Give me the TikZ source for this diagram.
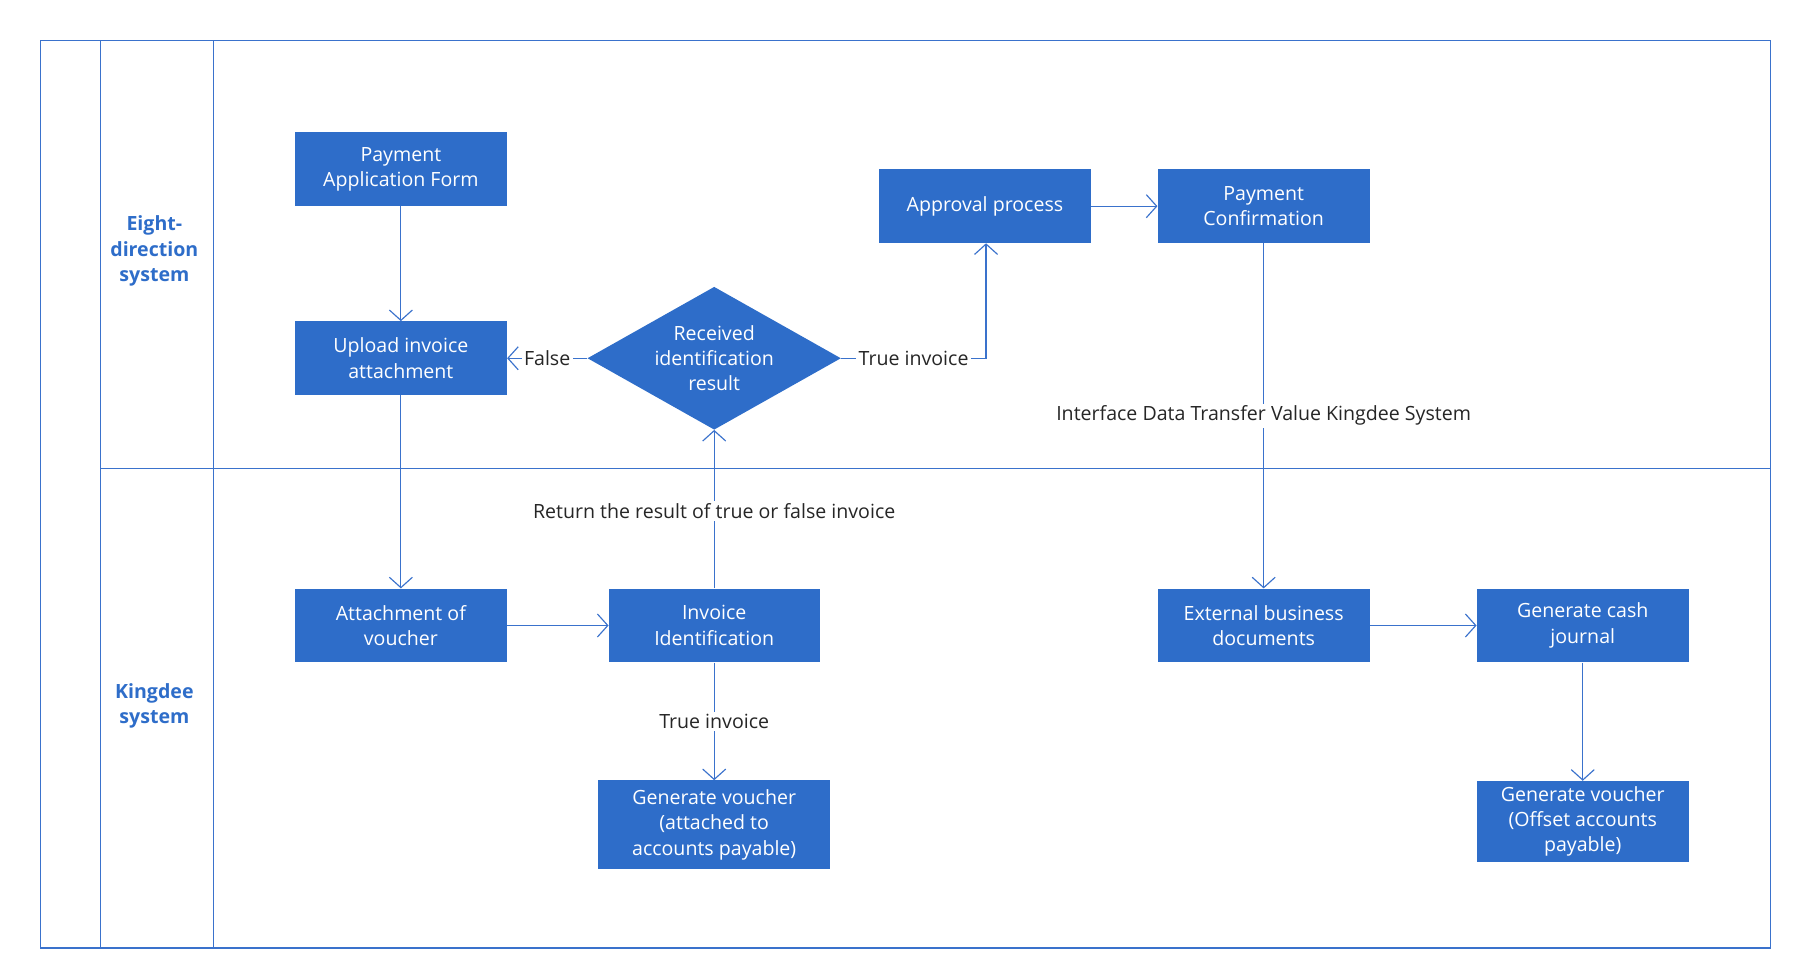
\documentclass[tikz,border=0pt]{standalone}
\usepackage{fontspec}
\setmainfont{Open Sans}
\usetikzlibrary{arrows.meta,shapes.geometric}
\definecolor{bx}{HTML}{2E6DC9}
\definecolor{ln}{HTML}{3A72CC}
\begin{document}
\begin{tikzpicture}[x=1pt,y=-1pt,
  box/.style={draw=none,fill=bx,text=white,font=\fontsize{17}{22}\selectfont,align=center,inner sep=0pt},
  con/.style={draw=ln,line width=1pt,-{Straight Barb[length=9pt,width=20pt]}},
  lbl/.style={fill=white,font=\fontsize{17}{22}\selectfont,text=black!85,inner sep=2pt},
  lane/.style={text=bx,font=\bfseries\fontsize{17}{22}\selectfont,align=center}]
\useasboundingbox (0,0) rectangle (1560,850);
\draw[ln,line width=1pt] (35,35) rectangle (1537,823);
\draw[ln,line width=1pt] (87,35) -- (87,823) (185,35) -- (185,823) (87,407) -- (1537,407);
\node[lane] (l1) at (134,218) {Eight-\\direction\\system};
\node[lane] (l2) at (134,613) {Kingdee\\system};
\node[box,minimum width=184,minimum height=64] (paf) at (348,147) {Payment\\Application Form};
\node[box,minimum width=184,minimum height=64] (up) at (348,311) {Upload invoice\\attachment};
\node[diamond,fill=bx,text=white,minimum width=220,minimum height=124,aspect=1.77,inner sep=0pt,align=center,font=\fontsize{17}{22}\selectfont] (dia) at (620,311) {Received\\identification\\result};
\node[box,minimum width=184,minimum height=64] (ap) at (855,179) {Approval process};
\node[box,minimum width=184,minimum height=64] (pc) at (1097,179) {Payment\\Confirmation};
\node[box,minimum width=184,minimum height=64] (att) at (348,543) {Attachment of\\voucher};
\node[box,minimum width=183,minimum height=64] (inv) at (620,543) {Invoice\\Identification};
\node[box,minimum width=201,minimum height=77] (gv1) at (620,716) {Generate voucher\\(attached to\\accounts payable)};
\node[box,minimum width=184,minimum height=64] (ext) at (1097,543) {External business\\documents};
\node[box,minimum width=184,minimum height=64] (cj) at (1374,543) {Generate cash\\journal};
\node[box,minimum width=184,minimum height=70] (gv2) at (1374,713) {Generate voucher\\(Offset accounts\\payable)};
\coordinate (tc) at (856,311);
\draw[con] (paf) -- (up);
\draw[con] (up) -- (att);
\draw[con] (dia.west) -- node[lbl]{False} (up.east);
\draw[con] (dia.east) -- node[lbl]{True invoice} (tc) -- (ap.south -| tc);
\draw[con] (ap) -- (pc);
\draw[con] (pc) -- node[lbl,pos=0.5]{Interface Data Transfer Value Kingdee System} (ext);
\draw[con] (att) -- (inv);
\draw[con] (inv) -- node[lbl,pos=0.49]{Return the result of true or false invoice} (dia.south);
\draw[con] (inv) -- node[lbl]{True invoice} (gv1);
\draw[con] (ext) -- (cj);
\draw[con] (cj) -- (gv2);
\end{tikzpicture}
\end{document}
